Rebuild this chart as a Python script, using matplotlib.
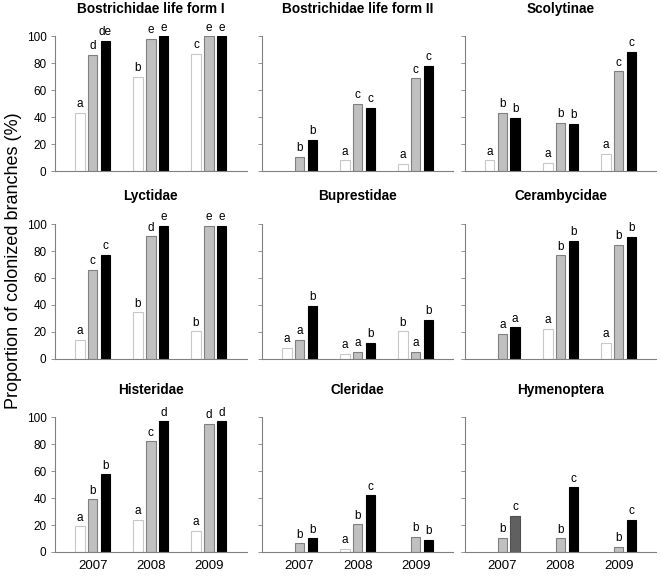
"""
Proportion of colonized branches per taxon, 2007-2009
"""

import numpy as np
from matplotlib import pyplot as plt

plt.rcParams['font.family'] = ['Liberation Sans', 'DejaVu Sans']

years = ['2007', '2008', '2009']
titles = ['Bostrichidae life form I', 'Bostrichidae life form II', 'Scolytinae',
          'Lyctidae', 'Buprestidae', 'Cerambycidae',
          'Histeridae', 'Cleridae', 'Hymenoptera']

# values per panel: [white, gray, black] for each year (None = no bar)
white = [
    [43, 70, 87],
    [None, 8, 5.5],
    [8, 6, 13],
    [14, 34.5, 20.5],
    [8.3, 3.8, 20.3],
    [None, 22, 12],
    [19, 24, 15.5],
    [None, 2.5, None],
    [None, None, None],
]
gray = [
    [86, 98.3, 100],
    [10.5, 50, 68.7],
    [43, 36, 74],
    [66, 90.8, 98.8],
    [14.3, 5.3, 5.3],
    [18.3, 76.8, 84.8],
    [39, 82, 95],
    [6.5, 20.5, 11],
    [10.7, 10.2, 3.7],
]
black = [
    [96.8, 100, 100],
    [23.3, 47, 78],
    [39.5, 35, 88.3],
    [77.3, 98.8, 98.8],
    [39.5, 11.8, 29],
    [23.3, 87.8, 90.5],
    [57.5, 97, 97],
    [10.2, 42, 9],
    [27, 48, 24],
]
# significance letters, same layout
lab_white = [
    ['a', 'b', 'c'], ['', 'a', 'a'], ['a', 'a', 'a'],
    ['a', 'b', 'b'], ['a', 'a', 'b'], ['', 'a', 'a'],
    ['a', 'a', 'a'], ['', 'a', ''], ['', '', ''],
]
lab_gray = [
    ['d', 'e', 'e'], ['b', 'c', 'c'], ['b', 'b', 'c'],
    ['c', 'd', 'e'], ['a', 'a', 'a'], ['a', 'b', 'b'],
    ['b', 'c', 'd'], ['b', 'b', 'b'], ['b', 'b', 'b'],
]
lab_black = [
    ['de', 'e', 'e'], ['b', 'c', 'c'], ['b', 'b', 'c'],
    ['c', 'e', 'e'], ['b', 'b', 'b'], ['a', 'b', 'b'],
    ['b', 'd', 'd'], ['b', 'c', 'b'], ['c', 'c', 'c'],
]

fig = plt.figure(figsize=(6.61, 5.76), dpi=100)

lefts = [0.083, 0.396, 0.703]
width = 0.29
bottoms = [0.703, 0.377, 0.0417]
height = 0.234

x = np.arange(3)
bw = 0.165
off = 0.22
styles = [dict(color='white', edgecolor='#c8c8c8'),
          dict(color='#c0c0c0', edgecolor='#808080'),
          dict(color='black', edgecolor='black')]

for k in range(9):
    r, c = divmod(k, 3)
    ax = fig.add_axes([lefts[c], bottoms[r], width, height])
    series = [white[k], gray[k], black[k]]
    labels = [lab_white[k], lab_gray[k], lab_black[k]]
    for s in range(3):
        for j in range(3):
            v = series[s][j]
            if v is None:
                continue
            st = dict(styles[s])
            if k == 8 and s == 2 and j == 0:
                st = dict(color='#606060', edgecolor='#505050')
            ax.bar(x[j] + (s - 1)*off, v, bw, linewidth=0.8, zorder=2, **st)
            if labels[s][j]:
                ax.text(x[j] + (s - 1)*off, v + 2, labels[s][j], ha='center',
                        va='bottom', fontsize=8.5, clip_on=False)
    ax.set_xlim(-0.65, 2.65)
    ax.set_ylim(0, 100)
    ax.set_yticks([0, 20, 40, 60, 80, 100])
    ax.tick_params(axis='y', length=3, width=0.6, color='#808080', labelsize=8.5, pad=3)
    ax.tick_params(axis='x', length=0, labelsize=9.5, pad=6)
    if c > 0:
        ax.set_yticklabels([])
    if r == 2:
        ax.set_xticks(x)
        ax.set_xticklabels(years)
    else:
        ax.set_xticks([])
    for sp in ['top', 'right']:
        ax.spines[sp].set_visible(False)
    for sp in ['left', 'bottom']:
        ax.spines[sp].set_color('#808080')
        ax.spines[sp].set_linewidth(0.8)
    ax.set_title(titles[k], fontweight='bold', fontsize=9.8, pad=17)

fig.text(0.02, 0.548, 'Proportion of colonized branches (%)', rotation=90,
         va='center', ha='center', fontsize=13)

fig.savefig('out.png', dpi=100)
